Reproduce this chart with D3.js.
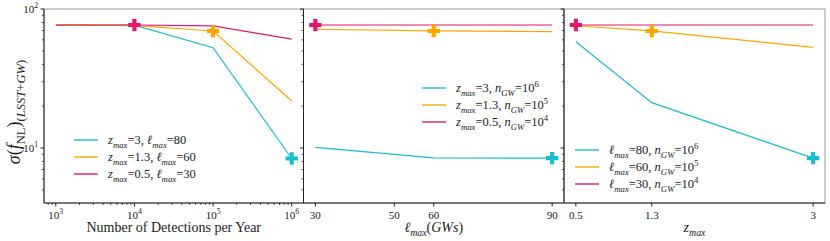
<!DOCTYPE html>
<html>
<head>
<meta charset="utf-8">
<title>sigma fNL panels</title>
<style>
  body { margin: 0; background: white; }
  text, tspan { font-family: "Liberation Serif", "DejaVu Serif", serif; fill: #222; }
  .spine-grey { stroke: #9a9a9a; fill: none; stroke-width: 1; }
  .spine { stroke: #222; stroke-width: 1; }
  .tick line { stroke: #222; }
</style>
</head>
<body>
<svg id="chart" width="830" height="241"></svg>
<script src="https://d3js.org/d3.v7.min.js"></script>
<script>
// values
var detections = [1e3, 1e4, 1e5, 1e6];
var p1Cyan    = [76.5, 76.5, 52.7, 8.4];
var p1Orange  = [76.5, 76.0, 69.5, 21.8];
var p1Magenta = [76.7, 76.7, 75.5, 60.8];

var lmaxVals   = [30, 60, 90];
var p2Cyan    = [10.1, 8.5, 8.45];
var p2Orange  = [71.5, 69.5, 68.7];
var p2Magenta = [76.7, 76.7, 76.7];

var zmaxVals   = [0.5, 1.3, 3];
var p3Cyan    = [58.2, 21.2, 8.45];
var p3Orange  = [75.8, 69.5, 53.0];
var p3Magenta = [76.7, 76.7, 76.7];

var leg1 = ["z_{max}=3, ℓ_{max}=80", "z_{max}=1.3, ℓ_{max}=60", "z_{max}=0.5, ℓ_{max}=30"];
var leg2 = ["z_{max}=3, n_{GW}=10^{6}", "z_{max}=1.3, n_{GW}=10^{5}", "z_{max}=0.5, n_{GW}=10^{4}"];
var leg3 = ["ℓ_{max}=80, n_{GW}=10^{6}", "ℓ_{max}=60, n_{GW}=10^{5}", "ℓ_{max}=30, n_{GW}=10^{4}"];

var colors = ["#17becf", "#ffa500", "#e6176b"];

var svg = d3.select("#chart");
var top_ = 9, bottom = 203;
var y = d3.scaleLog().domain([4.02, 100]).range([bottom, top_]);

// tiny mathtext: letters italic, digits upright, _{..} sub, ^{..} sup, ! = roman group
function mathText(sel, str, fs, allRoman) {
  var pieces = [], i = 0, buf = "";
  while (i < str.length) {
    var c = str[i];
    if ((c === "_" || c === "^") && str[i + 1] === "{") {
      if (buf) { pieces.push({s: buf, lvl: 0}); buf = ""; }
      var j = str.indexOf("}", i);
      var inner = str.slice(i + 2, j), roman = false;
      if (inner[0] === "!") { roman = true; inner = inner.slice(1); }
      pieces.push({s: inner, lvl: c === "_" ? -1 : 1, roman: roman});
      i = j + 1;
    } else { buf += c; i++; }
  }
  if (buf) pieces.push({s: buf, lvl: 0});
  var cur = 0;
  pieces.forEach(function(p) {
    var size = p.lvl ? fs * 0.7 : fs;
    var shift = p.lvl === -1 ? fs * 0.28 : (p.lvl === 1 ? -fs * 0.42 : 0);
    var runs = [], r = null;
    for (var k = 0; k < p.s.length; k++) {
      var ch = p.s[k];
      var it = !allRoman && !p.roman && /[A-Za-zσℓ]/.test(ch);
      if (!r || r.it !== it) { r = {t: "", it: it}; runs.push(r); }
      r.t += ch;
    }
    runs.forEach(function(run, idx) {
      var dy = idx === 0 ? shift - cur : 0;
      sel.append("tspan")
        .attr("dy", dy)
        .style("font-size", size + "px")
        .style("font-style", run.it ? "italic" : "normal")
        .text(run.t);
    });
    cur = shift;
  });
}

function logMinor(lo, hi) {
  var out = [];
  for (var e = Math.floor(Math.log10(lo)); e <= Math.ceil(Math.log10(hi)); e++) {
    for (var m = 2; m <= 9; m++) {
      var v = m * Math.pow(10, e);
      if (v > lo && v < hi) out.push(v);
    }
  }
  return out;
}

function panel(x0, x1, xScale, xs, series, markIdx, legend, legPos, opts) {
  var g = svg.append("g");
  var x = xScale.range([x0, x1]);
  g.append("rect").attr("class", "spine-grey")
    .attr("x", x0).attr("y", top_).attr("width", x1 - x0).attr("height", bottom - top_);

  // y ticks
  var yMinor = logMinor(4.02, 100);
  var ya = g.append("g").attr("class", "tick");
  ya.selectAll(".maj").data([10, 100]).enter().append("line")
    .attr("x1", x0 - 3.5).attr("x2", x0).attr("y1", function(d) { return y(d); }).attr("y2", function(d) { return y(d); });
  ya.selectAll(".min").data(yMinor).enter().append("line")
    .attr("x1", x0 - 2).attr("x2", x0).attr("y1", function(d) { return y(d); }).attr("y2", function(d) { return y(d); })
    .attr("stroke-width", 0.8);
  if (opts.yLabels) {
    [[10, "1"], [100, "2"]].forEach(function(t) {
      var tx = g.append("text").attr("x", x0 - 6).attr("y", y(t[0]) + 4)
        .attr("text-anchor", "end").style("font-size", "11px");
      mathText(tx, "10^{" + t[1] + "}", 11);
    });
  }

  // x ticks
  var xa = g.append("g").attr("class", "tick");
  xa.selectAll(".maj").data(opts.xTicks).enter().append("line")
    .attr("y1", bottom).attr("y2", bottom + 3.5)
    .attr("x1", function(d) { return x(d); }).attr("x2", function(d) { return x(d); });
  if (opts.xMinor) {
    xa.selectAll(".min").data(opts.xMinor).enter().append("line")
      .attr("y1", bottom).attr("y2", bottom + 2).attr("stroke-width", 0.8)
      .attr("x1", function(d) { return x(d); }).attr("x2", function(d) { return x(d); });
  }
  opts.xTicks.forEach(function(d, i) {
    var tx = g.append("text").attr("x", x(d)).attr("y", bottom + 16)
      .attr("text-anchor", "middle").style("font-size", "11px");
    mathText(tx, opts.xTickText[i], 11);
  });

  // spines
  g.append("line").attr("class", "spine").attr("x1", x0).attr("x2", x0).attr("y1", top_).attr("y2", bottom);
  g.append("line").attr("class", "spine").attr("x1", x0).attr("x2", x1).attr("y1", bottom).attr("y2", bottom);

  // x label
  var xl = g.append("text").attr("x", (x0 + x1) / 2).attr("y", 232)
    .attr("text-anchor", "middle").style("font-size", "14px");
  mathText(xl, opts.xLabel, 14, opts.xLabelRoman);

  // lines
  var line = d3.line().x(function(d, i) { return x(xs[i]); }).y(function(d) { return y(d); });
  series.forEach(function(s, k) {
    g.append("path").datum(s).attr("d", line)
      .attr("fill", "none").attr("stroke", colors[k]).attr("stroke-width", 1.2);
  });
  var cross = d3.symbol().type(d3.symbolCross).size(85);
  series.forEach(function(s, k) {
    var idx = markIdx[k];
    g.append("path").attr("d", cross)
      .attr("transform", "translate(" + x(xs[idx]) + "," + y(s[idx]) + ")")
      .attr("fill", colors[k]);
  });

  // legend
  legend.forEach(function(lab, k) {
    var ly = legPos[1] + k * 17;
    g.append("line").attr("x1", legPos[0]).attr("x2", legPos[0] + 24)
      .attr("y1", ly).attr("y2", ly).attr("stroke", colors[k]).attr("stroke-width", 1.4);
    var t = g.append("text").attr("x", legPos[0] + 34).attr("y", ly + 4).style("font-size", "12.5px");
    mathText(t, lab, 12.5);
  });
}

var p1Ticks = [1e3, 1e4, 1e5, 1e6];
panel(44, 303.5, d3.scaleLog().domain([Math.pow(10, 2.85), Math.pow(10, 6.15)]), detections,
  [p1Cyan, p1Orange, p1Magenta], [3, 2, 1], leg1, [74, 140], {
    yLabels: true,
    xTicks: p1Ticks,
    xTickText: ["10^{3}", "10^{4}", "10^{5}", "10^{6}"],
    xMinor: logMinor(Math.pow(10, 2.85), Math.pow(10, 6.15)),
    xLabel: "Number of Detections per Year",
    xLabelRoman: true
  });

panel(303.5, 564, d3.scaleLinear().domain([27, 93]), lmaxVals,
  [p2Cyan, p2Orange, p2Magenta], [2, 1, 0], leg2, [422, 88], {
    yLabels: false,
    xTicks: [30, 50, 60, 90],
    xTickText: ["30", "50", "60", "90"],
    xLabel: "ℓ_{max}(GWs)"
  });

panel(564, 825, d3.scaleLinear().domain([0.375, 3.125]), zmaxVals,
  [p3Cyan, p3Orange, p3Magenta], [2, 1, 0], leg3, [575, 150], {
    yLabels: false,
    xTicks: [0.5, 1.3, 3],
    xTickText: ["0.5", "1.3", "3"],
    xLabel: "z_{max}"
  });

// y label
var yl = svg.append("text")
  .attr("transform", "translate(20," + ((top_ + bottom) / 2 + 6) + ") rotate(-90)")
  .attr("text-anchor", "middle").style("font-size", "18px");
mathText(yl, "σ(f_{!NL})_{(LSST+GW)}", 18);
</script>
</body>
</html>
